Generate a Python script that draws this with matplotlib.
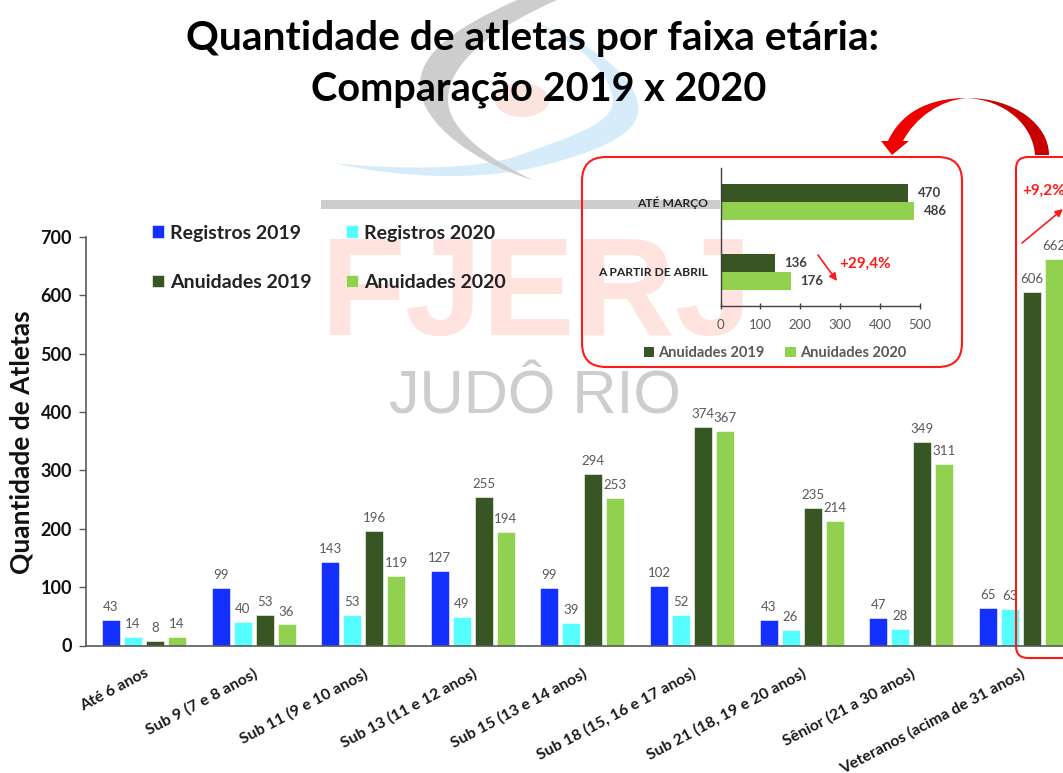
# coding: utf-8

"""Quantidade de atletas por faixa etaria, 2019 x 2020, with the inset of the
veterans on top and the FJERJ watermark behind."""

import matplotlib
matplotlib.use('Agg')
from matplotlib import pyplot as plt
from matplotlib.patches import FancyBboxPatch, FancyArrowPatch, PathPatch, \
  Rectangle, Ellipse
from matplotlib.path import Path
import numpy as np

categories = ['Até 6 anos', 'Sub 9 (7 e 8 anos)', 'Sub 11 (9 e 10 anos)',
              'Sub 13 (11 e 12 anos)', 'Sub 15 (13 e 14 anos)',
              'Sub 18 (15, 16 e 17 anos)', 'Sub 21 (18, 19 e 20 anos)',
              'Sênior (21 a 30 anos)', 'Veteranos (acima de 31 anos)']
registros_2019 = [43, 99, 143, 127, 99, 102, 43, 47, 65]
registros_2020 = [14, 40, 53, 49, 39, 52, 26, 28, 63]
anuidades_2019 = [8, 53, 196, 255, 294, 374, 235, 349, 606]
anuidades_2020 = [14, 36, 119, 194, 253, 367, 214, 311, 662]

inset_categories = ['ATÉ MARÇO', 'A PARTIR DE ABRIL']
inset_2019 = [470, 136]
inset_2020 = [486, 176]

BLUE = '#1430FF'
CYAN = '#55FFFF'
DARK = '#375623'
LIGHT = '#92D050'
GREY_TEXT = '#595959'
RED = '#FF1A1A'

W, H = 1063, 773
plt.rcParams['font.family'] = ['Lato', 'DejaVu Sans']


def box(x0, y0, x1, y1):
  # Axes rectangle from pixel positions, y counted from the top
  return [x0 / W, 1 - y1 / H, (x1 - x0) / W, (y1 - y0) / H]


def curve(points, **kwargs):
  # Closed shape made of cubic segments, in pixel positions
  codes = [Path.MOVETO] + [Path.CURVE4] * (len(points) - 1)
  return PathPatch(Path(points, codes), lw=0, **kwargs)


fig = plt.figure(figsize=(W / 100, H / 100), dpi=100)

# Watermark behind everything
back = fig.add_axes([0, 0, 1, 1], zorder=0)
back.set_xlim(0, W)
back.set_ylim(H, 0)
back.axis('off')
back.add_patch(Ellipse((522, 100), 54, 34, color='#FBE3DE', lw=0))
back.add_patch(curve([(333, 163), (400, 178), (480, 182), (545, 165),
                      (610, 148), (642, 130), (638, 105),
                      (634, 72), (580, 35), (520, 18),
                      (570, 35), (610, 70), (613, 100),
                      (615, 125), (560, 140), (520, 155),
                      (480, 170), (400, 170), (333, 163)],
                     color='#D6ECFA'))
back.add_patch(curve([(517, 0), (450, 30), (420, 55), (420, 85),
                      (420, 125), (480, 165), (533, 180),
                      (490, 160), (448, 130), (448, 100),
                      (448, 60), (500, 25), (557, 0)],
                     color='#CDCDCD'))
back.add_patch(Rectangle((321, 200), 399, 9, color='#CDCDCD', lw=0))
back.text(537, 335, 'FJERJ', color='#FEE3DF', fontsize=100,
          family='Liberation Sans', weight='bold', ha='center', va='baseline')
back.text(535, 414, 'JUDÔ RIO', color='#CDCDCD', fontsize=44,
          family='Liberation Sans', ha='center', va='baseline')

# Main chart
ax = fig.add_axes(box(86, 237, W, 645.5), zorder=1)
ax.patch.set_alpha(0)
x = np.arange(len(categories))
step = 22 / 109.6
series = [(registros_2019, BLUE, 'Registros 2019', -1.5),
          (registros_2020, CYAN, 'Registros 2020', -0.5),
          (anuidades_2019, DARK, 'Anuidades 2019', 0.5),
          (anuidades_2020, LIGHT, 'Anuidades 2020', 1.5)]
handles = []
for values, color, label, pos in series:
  bars = ax.bar(x + pos * step, values, 18 / 109.6, color=color, label=label,
                edgecolor='white', linewidth=0.4)
  handles.append(bars)
  ax.bar_label(bars, padding=5, fontsize=9.5, color=GREY_TEXT, clip_on=False)

ax.set_xlim(-58 / 109.6, (W - 144) / 109.6)
ax.set_ylim(0, 700)
ax.set_yticks(range(0, 701, 100))
ax.set_xticks(x)
ax.set_xticklabels(categories, rotation=28, ha='right', va='top',
                   rotation_mode='anchor', fontsize=11.4, weight='bold',
                   color='#1a1a1a')
ax.tick_params(axis='x', length=0, pad=15)
ax.tick_params(axis='y', length=5, width=1, color=GREY_TEXT, pad=5,
               labelsize=13, labelcolor='#111111')
for tick in ax.get_yticklabels():
  tick.set_fontweight('bold')
for side in ('top', 'right'):
  ax.spines[side].set_visible(False)
for side in ('left', 'bottom'):
  ax.spines[side].set_color(GREY_TEXT)
  ax.spines[side].set_linewidth(1.2)
fig.text(22 / W, 1 - 442 / H, 'Quantidade de Atletas', rotation=90,
         fontsize=19, weight='bold', color='#111111', ha='center',
         va='center')
# Filled column by column, so the pairs read across as in the original
ax.legend([handles[0], handles[2], handles[1], handles[3]],
          ['Registros 2019', 'Anuidades 2019', 'Registros 2020',
           'Anuidades 2020'],
          loc='upper left', bbox_to_anchor=(65.5 / 977, 1.03), ncols=2,
          frameon=False, handlelength=0.65, handleheight=0.65,
          handletextpad=0.3, columnspacing=1.75, labelspacing=1.65,
          prop={'size': 14, 'weight': 'bold'}, labelcolor='#222222',
          borderaxespad=0, borderpad=0)

# Title
fig.text(533 / W, 1 - 50 / H, 'Quantidade de atletas por faixa etária:',
         fontsize=29.3, weight='bold', color='black', ha='center',
         va='baseline')
fig.text(539 / W, 1 - 100 / H, 'Comparação 2019 x 2020',
         fontsize=28.5, weight='bold', color='black', ha='center',
         va='baseline')

# Red frames and arrows on top of the main chart
over = fig.add_axes([0, 0, 1, 1], zorder=2)
over.patch.set_alpha(0)
over.set_xlim(0, W)
over.set_ylim(H, 0)
over.axis('off')
over.add_patch(FancyBboxPatch((603, 178), 338, 168,
                              boxstyle='round,pad=21,rounding_size=24',
                              fc='none', ec=RED, lw=1.5))
over.add_patch(FancyBboxPatch((1030, 171), 100, 473,
                              boxstyle='round,pad=14,rounding_size=12',
                              fc='none', ec=RED, lw=1.5))
# Curved arrow between the frames, bright half with the head, dark half behind
over.add_patch(PathPatch(Path(
  [(967, 98), (925, 98), (900, 115), (888, 141), (881, 141), (892, 155),
   (909, 141), (903, 141), (915, 118), (940, 100), (967, 98)],
  [Path.MOVETO, Path.CURVE4, Path.CURVE4, Path.CURVE4, Path.LINETO,
   Path.LINETO, Path.LINETO, Path.LINETO, Path.CURVE4, Path.CURVE4,
   Path.CURVE4]), color='#F00000', lw=0))
over.add_patch(PathPatch(Path(
  [(967, 98), (1015, 98), (1049, 125), (1049, 155), (1035, 155), (1033, 125),
   (1005, 100), (967, 98)],
  [Path.MOVETO, Path.CURVE4, Path.CURVE4, Path.CURVE4, Path.LINETO,
   Path.CURVE4, Path.CURVE4, Path.CURVE4]), color='#C80000', lw=0))
over.add_patch(FancyArrowPatch((818, 255), (837, 281), arrowstyle='-|>',
                               mutation_scale=11, color=RED, lw=1.2,
                               shrinkA=0, shrinkB=0))
over.add_patch(FancyArrowPatch((1022, 243), (1063, 209), arrowstyle='-|>',
                               mutation_scale=11, color=RED, lw=1.2,
                               shrinkA=0, shrinkB=0))
over.text(865, 264, '+29,4%', color=RED, fontsize=11, weight='bold',
          ha='center', va='center')
over.text(1022, 191, '+9,2%', color=RED, fontsize=11, weight='bold',
          ha='left', va='center')

# Inset with the split of the year
inset = fig.add_axes(box(720.5, 168, 920, 306.5), zorder=3)
inset.patch.set_alpha(0)
y = np.arange(len(inset_categories))
bar_h = 18.3 / 70
inset_bars = inset.barh(y - bar_h / 2, inset_2019, bar_h, color=DARK,
                        label='Anuidades 2019')
inset.bar_label(inset_bars, padding=7, fontsize=9.5, weight='bold',
                color='#404040')
inset_bars = inset.barh(y + bar_h / 2, inset_2020, bar_h, color=LIGHT,
                        label='Anuidades 2020')
inset.bar_label(inset_bars, padding=7, fontsize=9.5, weight='bold',
                color='#404040')
inset.set_xlim(0, 500)
inset.set_ylim(1 + 34.5 / 70, -34 / 70)
inset.set_xticks(range(0, 501, 100))
inset.set_yticks(y)
inset.set_yticklabels(inset_categories, fontsize=8.7, weight='bold',
                      color='#262626')
inset.tick_params(axis='y', length=0, pad=9)
inset.tick_params(axis='x', length=4, width=1, color='#404040', pad=7,
                  labelsize=9.5, labelcolor=GREY_TEXT, direction='inout')
for side in ('top', 'right'):
  inset.spines[side].set_visible(False)
for side in ('left', 'bottom'):
  inset.spines[side].set_color('#404040')
  inset.spines[side].set_linewidth(1)
inset.legend(loc='upper center', bbox_to_anchor=(0.273, -0.285), ncols=2,
             frameon=False, handlelength=0.72, handleheight=0.72,
             handletextpad=0.3, columnspacing=1.4, labelcolor=GREY_TEXT,
             prop={'size': 10.5, 'weight': 'bold'}, borderaxespad=0,
             borderpad=0)

plt.savefig('out.png', dpi=100)
